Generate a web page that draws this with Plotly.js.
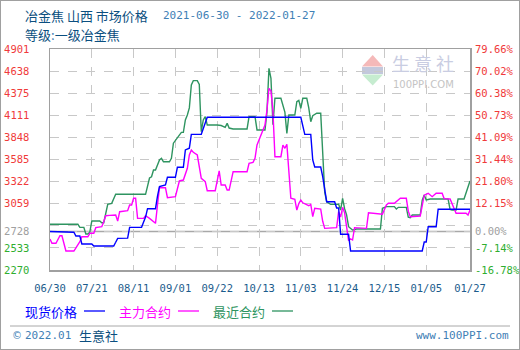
<!DOCTYPE html>
<html><head><meta charset="utf-8">
<script src="https://cdn.plot.ly/plotly-3.0.1.min.js"></script>
<style>html,body{margin:0;padding:0;background:#fff}#chart{width:518px;height:348px;border:1px solid #a0a0a0}</style>
</head><body><div id="chart"></div>
<script>
// ---- data ----
const spotDates = ['2021-06-30','2021-07-05','2021-07-06','2021-07-12','2021-07-13','2021-07-15','2021-07-16','2021-07-21','2021-07-22','2021-08-01','2021-08-02','2021-08-03','2021-08-08','2021-08-09','2021-08-15','2021-08-17','2021-08-18','2021-08-22','2021-08-23','2021-08-24','2021-08-27','2021-08-28','2021-09-01','2021-09-02','2021-09-05','2021-09-06','2021-09-08','2021-09-09','2021-09-14','2021-09-16','2021-09-17','2021-11-03','2021-11-04','2021-11-05','2021-11-08','2021-11-09','2021-11-10','2021-11-13','2021-11-14','2021-11-15','2021-11-16','2021-11-20','2021-11-21','2021-11-22','2021-11-23','2021-11-27','2021-11-28','2022-01-03','2022-01-04','2022-01-05','2022-01-06','2022-01-10','2022-01-11','2022-01-27'];
const spotPrices = [2728,2728,2719,2719,2675,2675,2580,2580,2556,2556,2600,2647,2650,2778,2778,2900,3000,3000,3150,3262,3282,3374,3374,3493,3493,3699,3720,3885,3885,4032,4088,4088,3969,3885,3885,3580,3496,3496,3381,3222,3083,3083,3008,3008,2695,2695,2496,2496,2603,2603,2785,2785,2993,2993];

const mainDates = ['2021-06-30','2021-07-01','2021-07-03','2021-07-05','2021-07-06','2021-07-08','2021-07-12','2021-07-15','2021-07-16','2021-07-19','2021-07-20','2021-07-22','2021-07-23','2021-07-26','2021-07-27','2021-07-28','2021-07-30','2021-08-02','2021-08-03','2021-08-04','2021-08-08','2021-08-09','2021-08-10','2021-08-11','2021-08-12','2021-08-13','2021-08-16','2021-08-17','2021-08-19','2021-08-22','2021-08-23','2021-08-24','2021-08-27','2021-08-28','2021-09-01','2021-09-03','2021-09-05','2021-09-07','2021-09-08','2021-09-09','2021-09-10','2021-09-12','2021-09-14','2021-09-16','2021-09-17','2021-09-21','2021-09-23','2021-09-24','2021-09-26','2021-09-27','2021-09-28','2021-09-30','2021-10-07','2021-10-08','2021-10-10','2021-10-11','2021-10-12','2021-10-13','2021-10-14','2021-10-15','2021-10-16','2021-10-17','2021-10-18','2021-10-19','2021-10-20','2021-10-21','2021-10-24','2021-10-25','2021-10-26','2021-10-27','2021-10-28','2021-10-29','2021-10-31','2021-11-01','2021-11-02','2021-11-03','2021-11-04','2021-11-07','2021-11-08','2021-11-09','2021-11-10','2021-11-13','2021-11-14','2021-11-15','2021-11-21','2021-11-22','2021-11-23','2021-11-24','2021-11-25','2021-11-26','2021-11-27','2021-11-28','2021-11-29','2021-11-30','2021-12-06','2021-12-07','2021-12-10','2021-12-14','2021-12-16','2021-12-17','2021-12-20','2021-12-23','2021-12-26','2021-12-27','2021-12-28','2022-01-02','2022-01-04','2022-01-06','2022-01-08','2022-01-10','2022-01-13','2022-01-14','2022-01-17','2022-01-19','2022-01-20','2022-01-25','2022-01-26','2022-01-27'];
const mainPrices = [2639,2588,2588,2678,2678,2496,2496,2607,2666,2666,2707,2707,2774,2785,2845,2916,2920,2925,2853,2964,2976,3044,3044,3124,3124,2885,2885,2916,2885,2826,3044,3250,3250,3131,3143,3330,3341,3481,3639,3699,3671,3639,3362,3321,3214,3214,3449,3282,3282,3222,3222,3440,3440,3540,3552,3600,3758,3818,3900,3960,3996,4175,4433,4400,4160,3619,3619,3758,3719,3766,3400,3124,3112,2984,3060,3103,3070,3035,3050,2905,3005,2995,2850,2766,2774,2964,2900,3016,2950,2800,2620,2640,2627,2774,2766,2950,2940,2935,3044,3064,3064,3124,3124,2970,2905,2913,3160,3183,3143,3183,3183,3120,3115,2990,2945,2945,2925,2984];

const nearDates = ['2021-06-30','2021-07-14','2021-07-15','2021-07-17','2021-07-18','2021-07-19','2021-07-20','2021-07-21','2021-07-25','2021-07-26','2021-07-27','2021-07-28','2021-07-29','2021-07-31','2021-08-01','2021-08-02','2021-08-17','2021-08-18','2021-08-19','2021-08-20','2021-08-21','2021-08-22','2021-08-23','2021-08-24','2021-08-25','2021-08-26','2021-08-29','2021-08-30','2021-08-31','2021-09-02','2021-09-04','2021-09-05','2021-09-06','2021-09-07','2021-09-08','2021-09-09','2021-09-10','2021-09-12','2021-09-13','2021-09-14','2021-09-15','2021-09-16','2021-09-17','2021-09-22','2021-09-24','2021-09-26','2021-09-27','2021-09-28','2021-09-30','2021-10-07','2021-10-08','2021-10-11','2021-10-12','2021-10-16','2021-10-17','2021-10-18','2021-10-19','2021-10-20','2021-10-21','2021-10-24','2021-10-25','2021-10-26','2021-10-27','2021-10-28','2021-10-31','2021-11-01','2021-11-02','2021-11-03','2021-11-04','2021-11-06','2021-11-07','2021-11-08','2021-11-09','2021-11-11','2021-11-13','2021-11-14','2021-11-15','2021-11-16','2021-11-18','2021-11-22','2021-11-23','2021-11-24','2021-11-25','2021-11-26','2021-11-27','2021-11-29','2021-12-01','2021-12-13','2021-12-14','2021-12-16','2021-12-20','2021-12-21','2021-12-22','2021-12-26','2021-12-27','2021-12-28','2021-12-29','2022-01-02','2022-01-03','2022-01-04','2022-01-05','2022-01-07','2022-01-16','2022-01-17','2022-01-18','2022-01-20','2022-01-21','2022-01-24','2022-01-26','2022-01-27'];
const nearPrices = [2814,2814,2778,2778,2699,2699,2720,2853,2853,2833,2833,2925,3052,3064,3124,3171,3171,3282,3365,3380,3461,3461,3520,3580,3600,3559,3559,3600,3780,3838,3909,3909,4056,4115,4200,4472,4524,4524,4480,3916,4056,4095,3996,3996,3990,3969,4016,3960,3949,3949,4095,4095,3937,3937,4150,4671,4552,4000,4314,4314,4222,4150,3897,4115,4115,4274,4290,4195,4314,4314,4200,4036,4107,4136,4136,3600,3200,3083,3052,3052,2984,3124,3000,2925,2785,2745,2758,2758,3005,3024,3024,2996,3016,3016,2900,2893,2925,2925,3100,3163,3103,3115,3115,2990,2984,2984,3115,3115,3243,3330];

const xTickDates = ['2021-06-30','2021-07-21','2021-08-11','2021-09-01','2021-09-22','2021-10-13','2021-11-03','2021-11-24','2021-12-15','2022-01-05','2022-01-27'];
const xTickLabels = ['06/30','07/21','08/11','09/01','09/22','10/13','11/03','11/24','12/15','01/05','01/27'];
const yTickVals = [2270,2533,2728,2796,3059,3322,3585,3848,4111,4375,4638,4901];
const yTickLabels = ['2270','2533','2728','','3059','3322','3585','3848','4111','4375','4638','4901'];
const pctTickLabels = ['-16.78%','-7.14%','0.00%','','12.15%','21.80%','31.44%','41.09%','50.73%','60.38%','70.02%','79.66%'];
const baseValue = 2728;
const seriesNames = ['现货价格','主力合约','最近合约'];

// ---- styling ----
const C_SPOT = '#0000ff', C_MAIN = '#ff00ff', C_NEAR = '#2e9460';
const RED = '#f03a3a', GRAY = '#a0a0a0', GREEN = '#2fae2f';
function colorFor(v){ return v > baseValue ? RED : (v === baseValue ? GRAY : GREEN); }
const leftText = yTickLabels.map((t,i)=> t ? `<span style="color:${colorFor(yTickVals[i])}">${t}</span>` : '');
const rightText = pctTickLabels.map((t,i)=> t ? `<span style="color:${colorFor(yTickVals[i])}">${t}</span>` : '');

const mono = 'DejaVu Sans Mono';
const cjk = 'Noto Sans CJK SC';
const range = [2270, 4901];

const traces = [
  {x: nearDates, y: nearPrices, type:'scatter', mode:'lines', name: seriesNames[2], line:{color:C_NEAR, width:1.4}},
  {x: mainDates, y: mainPrices, type:'scatter', mode:'lines', name: seriesNames[1], line:{color:C_MAIN, width:1.4}},
  {x: spotDates, y: spotPrices, type:'scatter', mode:'lines', name: seriesNames[0], line:{color:C_SPOT, width:1.4}},
  {x: spotDates, y: spotPrices, type:'scatter', mode:'lines', yaxis:'y2', showlegend:false, line:{color:'rgba(0,0,0,0)', width:0}, hoverinfo:'skip'}
];

function px(x){ return (x-50)/420; }
function py(y){ return (270-y)/221; }

const ann = (x,y,text,opts={}) => Object.assign({xref:'paper', yref:'paper', x:px(x), y:py(y), text, showarrow:false, xanchor:'left', yanchor:'middle', borderpad:0}, opts);

const annotations = [
  ann(24,15,'冶金焦 山西 市场价格',{font:{family:cjk, size:13, color:'#0b4f80'}}),
  ann(162,15,'2021-06-30 - 2022-01-27',{font:{family:mono, size:11, color:'#3f80b5'}}),
  ann(24,34,'等级<span style="color:#3f80b5">:</span>一级冶金焦',{font:{family:cjk, size:13, color:'#0b4f80'}}),
  ann(24,311,seriesNames[0],{font:{family:cjk, size:13, color:C_SPOT}}),
  ann(118,311,seriesNames[1],{font:{family:cjk, size:13, color:C_MAIN}}),
  ann(212,311,seriesNames[2],{font:{family:cjk, size:13, color:C_NEAR}}),
  ann(11,335,'©',{font:{family:'DejaVu Sans', size:10, color:'#3f80b5'}}),
  ann(24,335,'2022.01',{font:{family:mono, size:11, color:'#3f80b5'}}),
  ann(78,335,'生意社',{font:{family:cjk, size:13, color:'#0b4f80'}}),
  ann(510,335,'www.100PPI.com',{xanchor:'right', font:{family:mono, size:11, color:'#3f80b5'}}),
  ann(391,63,'生 意 社',{font:{family:cjk, size:18, color:'#c9cde2'}}),
  ann(392,84,'100PPI.COM',{font:{family:'DejaVu Sans', size:10, color:'#c4c4c4'}})
];

const shapes = [
  {type:'line', xref:'paper', yref:'y', x0:0, x1:1, y0:baseValue, y1:baseValue, line:{color:'#a8a8a8', width:1.5}, layer:'below'},
  {type:'line', xref:'paper', yref:'paper', x0:px(84), x1:px(105), y0:py(311), y1:py(311), line:{color:C_SPOT, width:1.3}},
  {type:'line', xref:'paper', yref:'paper', x0:px(178), x1:px(199), y0:py(311), y1:py(311), line:{color:C_MAIN, width:1.3}},
  {type:'line', xref:'paper', yref:'paper', x0:px(272), x1:px(293), y0:py(311), y1:py(311), line:{color:C_NEAR, width:1.3}},
  {type:'line', xref:'paper', yref:'paper', x0:px(10), x1:px(510), y0:py(326), y1:py(326), line:{color:'#a8a8a8', width:1}},
  // watermark logo
  {type:'path', xref:'paper', yref:'paper', path:`M ${px(362)},${py(66.5)} L ${px(372.7)},${py(55)} L ${px(383)},${py(66.5)} Z`, fillcolor:'#f5b9b9', line:{width:0}, layer:'below'},
  {type:'rect', xref:'paper', yref:'paper', x0:px(362), x1:px(383), y0:py(74), y1:py(67), fillcolor:'#c3c8dc', line:{width:0}, layer:'below'},
  {type:'path', xref:'paper', yref:'paper', path:`M ${px(362)},${py(74.5)} L ${px(383)},${py(74.5)} L ${px(372.7)},${py(85.5)} Z`, fillcolor:'#c6ecd0', line:{width:0}, layer:'below'}
];

const layout = {
  width:518, height:348,
  margin:{l:49, r:49, t:48, b:79, pad:0},
  paper_bgcolor:'#fff', plot_bgcolor:'#fff',
  showlegend:false,
  xaxis:{type:'date', range:['2021-06-30','2022-01-27'], tickmode:'array', tickvals:xTickDates, ticktext:xTickLabels,
    showgrid:true, gridcolor:'#c8c8c8', griddash:'dash', gridwidth:1, zeroline:false,
    showline:true, linecolor:'#a0a0a0', linewidth:1.5, mirror:true, ticks:'', ticklabelstandoff:8,
    tickfont:{family:mono, size:10.5, color:'#1b5c8c'}, fixedrange:true},
  yaxis:{range:range, tickmode:'array', tickvals:yTickVals, ticktext:leftText,
    showgrid:true, gridcolor:'#c8c8c8', griddash:'dash', gridwidth:1, zeroline:false,
    showline:true, linecolor:'#a0a0a0', linewidth:1.5, mirror:true, ticks:'', ticklabelstandoff:17,
    tickfont:{family:mono, size:10.5, color:RED}, fixedrange:true},
  yaxis2:{range:range, overlaying:'y', side:'right', tickmode:'array', tickvals:yTickVals, ticktext:rightText,
    showgrid:false, zeroline:false, showline:false, ticks:'', ticklabelstandoff:4,
    tickfont:{family:mono, size:10.5, color:RED}, fixedrange:true},
  annotations, shapes
};

Plotly.newPlot('chart', traces, layout, {staticPlot:true, displayModeBar:false});
</script></body></html>
